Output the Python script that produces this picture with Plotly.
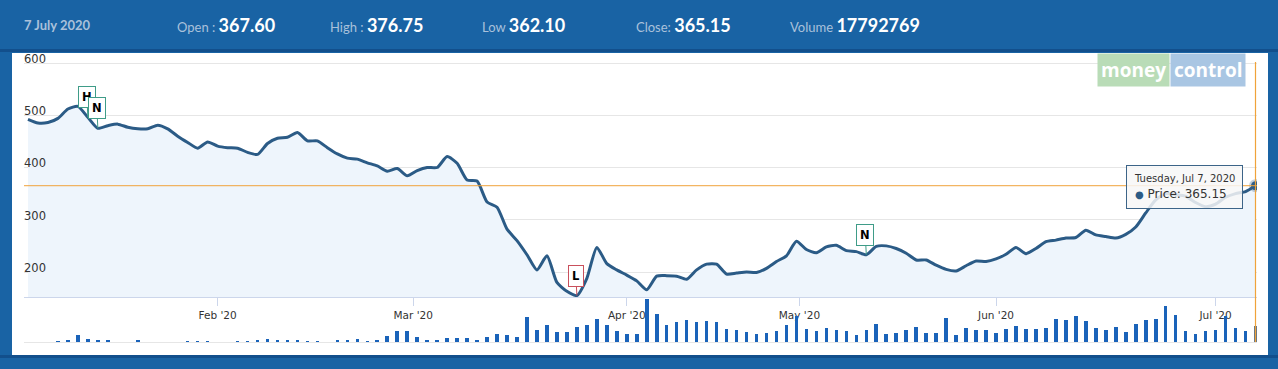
import plotly.graph_objects as go

W, H = 1278, 369

# ---------------- data ----------------
month_days = {
    "2020-01": [7, 8, 9, 10, 13, 14, 15, 16, 17, 20, 21, 22, 23, 24, 27, 28, 29, 30, 31],
    "2020-02": [1, 3, 4, 5, 6, 7, 10, 11, 12, 13, 14, 17, 18, 19, 20, 24, 25, 26, 27, 28],
    "2020-03": [2, 3, 4, 5, 6, 9, 11, 12, 13, 16, 17, 18, 19, 20, 23, 24, 25, 26, 27, 30, 31],
    "2020-04": [1, 3, 7, 8, 9, 13, 15, 16, 17, 20, 21, 22, 23, 24, 27, 28, 29, 30],
    "2020-05": [4, 5, 6, 7, 8, 11, 12, 13, 14, 15, 18, 19, 20, 21, 22, 26, 27, 28, 29],
    "2020-06": [1, 2, 3, 4, 5, 8, 9, 10, 11, 12, 15, 16, 17, 18, 19, 22, 23, 24, 25, 26, 29, 30],
    "2020-07": [1, 2, 3, 6, 7],
}
dates = [f"{m}-{d:02d}" for m, days in month_days.items() for d in days]

prices = [
    492, 485, 486, 494, 512, 517, 496, 475, 480, 483,
    477, 474, 474, 481, 474, 460, 448, 437, 449, 441,
    438, 437, 429, 425, 446, 456, 458, 467, 451, 451,
    438, 426, 418, 416, 409, 403, 393, 398, 384, 394,
    400, 400, 421, 408, 376, 374, 334, 324, 282, 260,
    233, 204, 231, 180, 163, 155, 188, 247, 216, 204,
    194, 183, 166, 192, 193, 192, 186, 204, 215, 215,
    196, 198, 200, 199, 207, 220, 231, 259, 243, 237,
    248, 251, 241, 239, 233, 249, 250, 245, 236, 223,
    223, 213, 205, 202, 212, 221, 220, 225, 234, 247,
    235, 245, 258, 261, 265, 266, 280, 271, 268, 265,
    272, 286, 313, 338, 350, 348, 345, 333, 325, 330,
    343, 350, 354, 365.15,
]

# volume in millions of shares
volumes = [
    0, 0, 0, 1.0, 1.3, 7.6, 3.1, 2.6, 2.6, 0,
    0, 1.7, 0, 0, 0, 0, 1.0, 1.0, 1.0, 0,
    0, 1.0, 1.0, 1.5, 3.7, 2.6, 2.3, 2.6, 1.1, 1.1,
    0, 1.9, 1.5, 3.7, 1.1, 1.5, 6.8, 12.1, 12.1, 5.7,
    2.8, 2.8, 4.5, 4.9, 4.2, 1.5, 5.7, 8.7, 7.7, 5.4,
    28.1, 13.4, 18.9, 10.8, 11.0, 16.8, 19.8, 25.8, 18.9, 12.1,
    8.7, 8.7, 48.2, 31.4, 19.8, 22.3, 24.7, 22.4, 23.6, 22.3,
    14.4, 13.3, 11.0, 8.7, 9.9, 12.1, 19.6, 29.5, 14.4, 12.1,
    15.5, 13.3, 12.1, 8.3, 13.3, 20.7, 8.7, 9.9, 13.3, 16.7,
    9.9, 9.9, 27.5, 7.6, 15.5, 13.3, 13.3, 9.9, 14.4, 17.8,
    14.4, 14.4, 15.5, 25.7, 24.6, 29.1, 23.5, 15.5, 13.3, 16.7,
    11.0, 20.1, 24.6, 25.7, 40.4, 30.3, 12.1, 8.7, 12.1, 13.3,
    29.1, 15.5, 12.1, 17.8,
]

tick_pos = [19, 38.6, 60, 77.3, 97, 119]
tick_labels = ["Feb '20", "Mar '20", "Apr '20", "May '20", "Jun '20", "Jul '20"]
price_ticks = [200, 300, 400, 500, 600]

header = {
    "date": "7 July 2020",
    "Open :": "367.60",
    "High :": "376.75",
    "Low": "362.10",
    "Close:": "365.15",
    "Volume": "17792769",
}
# flags: (label, index into series, border colour)
flags = [("H", 6, "#3f9c88"), ("N", 7, "#3f9c88"), ("L", 55, "#c9505c"), ("N", 84, "#3f9c88")]

# ---------------- styles ----------------
BLUE = "#1963a4"
LINE = "#2b5b86"
FILL = "#eef5fc"
BAR = "#1a63b9"
ORANGE = "#f0a33a"
GRID = "#e6e6e6"
AXIS = "#ccd6eb"
FONT = "DejaVu Sans"

idx = list(range(len(prices)))


def px_x(p):
    return p / W


def px_y(p):
    return (H - p) / H


fig = go.Figure()

fig.add_trace(go.Scatter(
    x=idx, y=prices, mode="lines", fill="tozeroy", fillcolor=FILL,
    line=dict(color=LINE, width=3, shape="spline", smoothing=0.6),
    text=dates, xaxis="x", yaxis="y", hoverinfo="skip",
))

bar_colors = [BAR] * (len(volumes) - 1) + ["#5f7389"]
fig.add_trace(go.Bar(
    x=idx, y=volumes, marker=dict(color=bar_colors, line=dict(width=0)),
    width=0.36, xaxis="x2", yaxis="y2", hoverinfo="skip",
))

# hovered point marker
fig.add_trace(go.Scatter(
    x=[idx[-1]], y=[prices[-1]], mode="markers",
    marker=dict(size=9, color=LINE, line=dict(color="rgba(60,100,140,0.3)", width=4)),
    xaxis="x", yaxis="y", hoverinfo="skip",
))

x_dom = [px_x(24), px_x(1257)]
x_rng = [-0.4, len(prices) - 1 + 0.15]
# price axis: 600 at y=63px, 200 at y=272px -> 0.5225 px per unit
y_top_px, y_bot_px = 48, 297
y_rng = [600 - (y_bot_px - 63) / 0.5225, 600 + (63 - y_top_px) / 0.5225]

fig.update_layout(
    width=W, height=H,
    margin=dict(l=0, r=0, t=0, b=0, autoexpand=False),
    paper_bgcolor=BLUE, plot_bgcolor="rgba(0,0,0,0)",
    showlegend=False, hovermode=False, bargap=0,
    xaxis=dict(
        domain=x_dom, range=x_rng, anchor="y", automargin=False,
        showgrid=False, zeroline=False,
        showline=True, linecolor=AXIS, linewidth=1,
        ticks="outside", ticklen=8, tickcolor=AXIS, tickwidth=1,
        tickvals=tick_pos, ticktext=tick_labels,
        tickfont=dict(family=FONT, size=10.5, color="#333333"),
    ),
    yaxis=dict(
        domain=[px_y(y_bot_px), px_y(y_top_px)], range=y_rng,
        anchor="free", position=px_x(20), automargin=False,
        tickvals=price_ticks, showgrid=True, gridcolor=GRID, gridwidth=1,
        zeroline=False, showline=False, ticks="",
        ticklabelposition="inside top", ticklabeloverflow="allow",
        ticklabelshift=4,
        tickfont=dict(family=FONT, size=11.5, color="#333333"),
    ),
    xaxis2=dict(
        domain=x_dom, range=x_rng, anchor="y2", matches="x", automargin=False,
        showgrid=False, zeroline=False, showticklabels=False, ticks="",
        showline=True, linecolor=GRID, linewidth=1,
    ),
    yaxis2=dict(
        domain=[px_y(342), px_y(299)], range=[0, 48.7], anchor="x2",
        visible=False, automargin=False,
    ),
)

shapes = [
    # white panel
    dict(type="rect", xref="paper", yref="paper", x0=px_x(12), x1=px_x(1268),
         y0=px_y(355), y1=px_y(53), fillcolor="white", line=dict(width=0), layer="below"),
    # darker stripes
    dict(type="rect", xref="paper", yref="paper", x0=0, x1=1,
         y0=px_y(52), y1=px_y(49), fillcolor="#124f8c", line=dict(width=0), layer="below"),
    dict(type="rect", xref="paper", yref="paper", x0=0, x1=1,
         y0=px_y(358), y1=px_y(355), fillcolor="#124f8c", line=dict(width=0), layer="below"),
    # crosshair
    dict(type="line", xref="paper", yref="y", x0=x_dom[0], x1=x_dom[1],
         y0=prices[-1], y1=prices[-1], line=dict(color=ORANGE, width=1)),
    dict(type="line", xref="x", yref="paper", x0=idx[-1], x1=idx[-1],
         y0=px_y(342), y1=px_y(62), line=dict(color=ORANGE, width=1.2)),
]
fig.update_layout(shapes=shapes)

ann = []
LBL = "#a9c1db"
hy = px_y(25)
ann.append(dict(x=px_x(22), y=hy, xref="paper", yref="paper", xanchor="left", yanchor="middle",
                text=f"<b>{header['date']}</b>", showarrow=False,
                font=dict(family="Lato", size=13, color=LBL)))
label_x = {"Open :": 175, "High :": 328, "Low": 480, "Close:": 634, "Volume": 788}
for k, xp in label_x.items():
    ann.append(dict(
        x=px_x(xp), y=hy, xref="paper", yref="paper", xanchor="left", yanchor="middle",
        text=f"{k} <span style='font-size:18px;color:#ffffff'><b>{header[k]}</b></span>",
        showarrow=False, font=dict(family="Lato", size=13, color=LBL)))

# logo
ann.append(dict(x=px_x(1170), y=px_y(70), xref="paper", yref="paper", xanchor="right", yanchor="middle",
                text="<b>money</b>", showarrow=False, bgcolor="#b9dcb7", borderpad=3,
                font=dict(family="Open Sans", size=19, color="white")))
ann.append(dict(x=px_x(1170), y=px_y(70), xref="paper", yref="paper", xanchor="left", yanchor="middle",
                text="<b>control</b>", showarrow=False, bgcolor="#a9c6e3", borderpad=3,
                font=dict(family="Open Sans", size=19, color="white")))

# flags
for lab, i, col in flags:
    ann.append(dict(x=idx[i], y=prices[i], xref="x", yref="y", text=f"<b>{lab}</b>",
                    showarrow=True, arrowhead=0, arrowwidth=1, arrowcolor=col, ax=-1, ay=-20,
                    bgcolor="white", bordercolor=col, borderwidth=1, borderpad=3,
                    font=dict(family=FONT, size=11.5, color="black")))

# tooltip
ann.append(dict(
    x=px_x(1184), y=px_y(187), xref="paper", yref="paper", xanchor="center", yanchor="middle",
    text=("<span style='font-size:10px'>Tuesday, Jul 7, 2020</span><br>"
          f"<span style='color:{LINE};font-size:10px'>●</span> Price: {prices[-1]:.2f}"),
    align="left", showarrow=False, bgcolor="rgba(247,247,247,0.85)",
    bordercolor="#3c6488", borderwidth=1, borderpad=7,
    font=dict(family=FONT, size=12, color="#333333")))

fig.update_layout(annotations=ann)

fig.write_html("out.html")
